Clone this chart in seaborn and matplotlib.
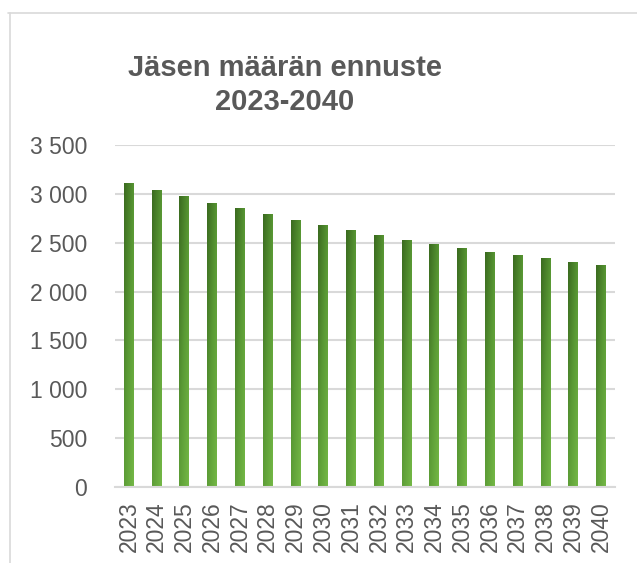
import numpy as np
import pandas as pd
import matplotlib
matplotlib.use("Agg")
import matplotlib.pyplot as plt
import matplotlib.colors as mcolors
import seaborn as sns

# data
years = [str(y) for y in range(2023, 2041)]
members = [3112, 3041, 2980, 2908, 2857, 2795, 2734, 2683, 2632,
           2581, 2530, 2489, 2448, 2407, 2376, 2346, 2305, 2274]
yticks = [0, 500, 1000, 1500, 2000, 2500, 3000, 3500]
ytick_labels = ["0", "500", "1 000", "1 500", "2 000", "2 500", "3 000", "3 500"]
title = "Jäsen määrän ennuste\n2023-2040"

df = pd.DataFrame({"vuosi": years, "jasenet": members})

sns.set_style("white")
plt.rcParams['font.family'] = ['Liberation Sans', 'DejaVu Sans']
txt_col = "#595959"
grid_col = "#d9d9d9"

W, H = 637, 563
fig = plt.figure(figsize=(W / 100, H / 100), dpi=100)
ax = fig.add_axes([115 / W, (H - 487) / H, 500 / W, (487 - 145) / H])

sns.barplot(data=df, x="vuosi", y="jasenet", color="#5a9a35", width=0.36, ax=ax, zorder=3)
ax.set_ylim(0, 3500)
ax.set_xlim(-0.5, len(years) - 0.5)
ax.set_yticks(yticks)
ax.set_yticklabels(ytick_labels)
ax.set_xlabel("")
ax.set_ylabel("")
ax.tick_params(axis="y", length=0, pad=20, labelsize=16.5, colors=txt_col)
ax.tick_params(axis="x", length=0, pad=10, labelsize=16.5, colors=txt_col, rotation=90)
ax.grid(axis="y", color=grid_col, linewidth=1.5, zorder=0)
for s in ["top", "right", "left"]:
    ax.spines[s].set_visible(False)
ax.spines["bottom"].set_color(grid_col)
ax.spines["bottom"].set_linewidth(1.5)
ax.spines["bottom"].set_zorder(4)

# gradient fill of the bars: dark green top-left to light green bottom-right
cmap = mcolors.LinearSegmentedColormap.from_list("g", ["#3a6a1f", "#5a9a35", "#74b846"])
u = np.linspace(0, 1, 64)
grad = 0.45 * u[None, :] + 0.55 * u[::-1, None]
for p in ax.patches:
    x0, y0 = p.get_x(), p.get_y()
    w, h = p.get_width(), p.get_height()
    im = ax.imshow(grad, cmap=cmap, vmin=0, vmax=1, aspect="auto",
                   extent=[x0, x0 + w, y0, y0 + h], origin="lower", zorder=3)
    im.set_clip_path(p)
    p.set_facecolor("none")
    p.set_edgecolor("none")
ax.set_xlim(-0.5, len(years) - 0.5)
ax.set_ylim(0, 3500)

fig.text(285 / W, 1 - 85 / H, title, ha="center", va="center", fontsize=21,
         fontweight="bold", color=txt_col, linespacing=1.3)

# chart area border (only top and left visible in the crop)
fig.add_artist(plt.Line2D([8 / W, 1], [1 - 12.5 / H, 1 - 12.5 / H], transform=fig.transFigure,
                          color=grid_col, linewidth=1.2))
fig.add_artist(plt.Line2D([10 / W, 10 / W], [0, 1 - 12.5 / H], transform=fig.transFigure,
                          color=grid_col, linewidth=1.2))

plt.savefig("out.png", dpi=100)
